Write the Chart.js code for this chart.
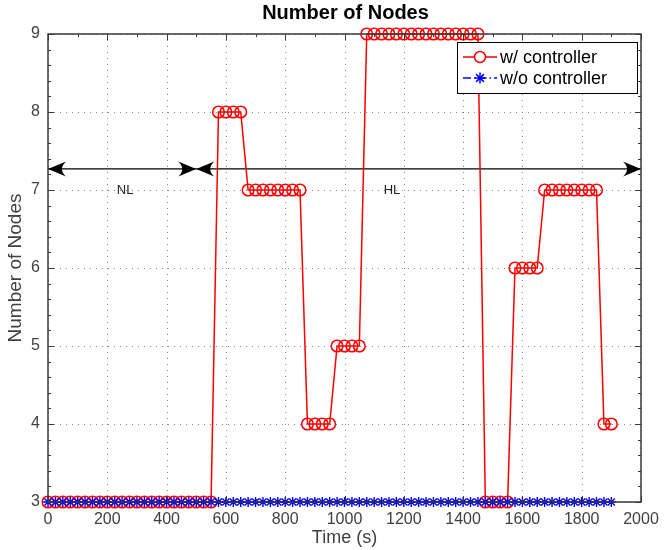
<!DOCTYPE html>
<html><head><meta charset="utf-8">
<script src="https://cdn.jsdelivr.net/npm/chart.js@4.4.1/dist/chart.umd.min.js"></script>
<style>html,body{margin:0;padding:0;background:#fff}#c{display:block}</style>
</head><body>
<canvas id="c" width="664" height="550"></canvas>
<script>
// ---- data ----
const timeS = [0,25,50,75,100,125,150,175,200,225,250,275,300,325,350,375,400,425,450,475,500,525,550,
  575,600,625,650,
  675,700,725,750,775,800,825,850,
  875,900,925,950,
  975,1000,1025,1050,
  1075,1100,1125,1150,1175,1200,1225,1250,1275,1300,1325,1350,1375,1400,1425,1450,
  1475,1500,1525,1550,
  1575,1600,1625,1650,
  1675,1700,1725,1750,1775,1800,1825,1850,
  1875,1900];
const withController = [3,3,3,3,3,3,3,3,3,3,3,3,3,3,3,3,3,3,3,3,3,3,3,
  8,8,8,8,
  7,7,7,7,7,7,7,7,
  4,4,4,4,
  5,5,5,5,
  9,9,9,9,9,9,9,9,9,9,9,9,9,9,9,9,
  3,3,3,3,
  6,6,6,6,
  7,7,7,7,7,7,7,7,
  4,4];
const withoutController = [3,3,3,3,3,3,3,3,3,3,3,3,3,3,3,3,3,3,3,3,3,3,3,
  3,3,3,3,
  3,3,3,3,3,3,3,3,
  3,3,3,3,
  3,3,3,3,
  3,3,3,3,3,3,3,3,3,3,3,3,3,3,3,3,
  3,3,3,3,
  3,3,3,3,
  3,3,3,3,3,3,3,3,
  3,3];
const seriesNames = ['w/ controller', 'w/o controller'];
const phaseNames = ['NL', 'HL'];
const phaseStart = [0, 500];
const phaseEnd = [500, 2000];
const phaseLabelTime = [260, 1160];
const phaseArrowLevel = 7.27;
const phaseLabelLevel = 7.0;
const xTickValues = [0,200,400,600,800,1000,1200,1400,1600,1800,2000];
const yTickValues = [3,4,5,6,7,8,9];

const FONT = '"Liberation Sans", Arial, Helvetica, sans-serif';
const TXT = '#404040';

function pts(vals){ return timeS.map((t,i)=>({x:t, y:vals[i]})); }

function drawStar(ctx, cx, cy, r){
  ctx.beginPath();
  for (let k=0;k<4;k++){
    const ang = k*Math.PI/4;
    const dx = Math.cos(ang)*r, dy = Math.sin(ang)*r;
    ctx.moveTo(cx-dx, cy-dy); ctx.lineTo(cx+dx, cy+dy);
  }
  ctx.stroke();
}
function arrowHead(ctx, tx, ty, dir, L, W){
  const bx = tx - dir*L;
  ctx.beginPath();
  ctx.moveTo(tx, ty);
  ctx.lineTo(bx, ty - W/2);
  ctx.quadraticCurveTo(tx - dir*L*0.55, ty, bx, ty + W/2);
  ctx.closePath();
  ctx.fill();
}

const deco = {
  id: 'deco',
  beforeDatasetsDraw(chart){
    const {ctx, chartArea:a, scales:{x, y}} = chart;
    ctx.save();
    ctx.strokeStyle = '#8a8a8a'; ctx.lineWidth = 1; ctx.setLineDash([1,5]);
    xTickValues.forEach(v=>{
      const px = Math.round(x.getPixelForValue(v))+0.5;
      ctx.beginPath(); ctx.moveTo(px, a.top); ctx.lineTo(px, a.bottom); ctx.stroke();
    });
    yTickValues.forEach(v=>{
      const py = Math.round(y.getPixelForValue(v))+0.5;
      ctx.beginPath(); ctx.moveTo(a.left, py); ctx.lineTo(a.right, py); ctx.stroke();
    });
    ctx.setLineDash([]);
    ctx.strokeStyle = '#000'; ctx.fillStyle = '#000'; ctx.lineWidth = 1.2;
    const ay = y.getPixelForValue(phaseArrowLevel);
    for (let i=0;i<phaseNames.length;i++){
      const x0 = x.getPixelForValue(phaseStart[i]), x1 = x.getPixelForValue(phaseEnd[i]);
      ctx.beginPath(); ctx.moveTo(x0, ay); ctx.lineTo(x1, ay); ctx.stroke();
      arrowHead(ctx, x0, ay, -1, 18, 15);
      arrowHead(ctx, x1, ay, 1, 18, 15);
      ctx.font = '13px ' + FONT; ctx.fillStyle = '#222';
      ctx.textAlign = 'center'; ctx.textBaseline = 'middle';
      ctx.fillText(phaseNames[i], x.getPixelForValue(phaseLabelTime[i]), y.getPixelForValue(phaseLabelLevel));
      ctx.fillStyle = '#000';
    }
    ctx.restore();
  },
  afterDraw(chart){
    const {ctx, chartArea:a, scales:{x, y}} = chart;
    ctx.save();
    ctx.strokeStyle = '#3a3a3a'; ctx.lineWidth = 1.5;
    ctx.strokeRect(a.left, a.top, a.right-a.left, a.bottom-a.top);
    ctx.lineWidth = 1;
    for (let v=0; v<=2000; v+=100){
      const px = Math.round(x.getPixelForValue(v))+0.5;
      const len = (v%200===0)?6:3;
      ctx.beginPath();
      ctx.moveTo(px, a.bottom); ctx.lineTo(px, a.bottom-len);
      ctx.moveTo(px, a.top); ctx.lineTo(px, a.top+len);
      ctx.stroke();
    }
    for (let k=0; k<=30; k++){
      const v = 3 + k*0.2;
      const py = Math.round(y.getPixelForValue(v))+0.5;
      const len = (k%5===0)?6:3;
      ctx.beginPath();
      ctx.moveTo(a.left, py); ctx.lineTo(a.left+len, py);
      ctx.moveTo(a.right, py); ctx.lineTo(a.right-len, py);
      ctx.stroke();
    }
    ctx.fillStyle = '#000'; ctx.font = 'bold 20px ' + FONT;
    ctx.textAlign = 'center'; ctx.textBaseline = 'middle';
    ctx.fillText('Number of Nodes', (a.left+a.right)/2 + 1, 13);
    const lw = 180, lh = 51;
    const lx = a.right - 4 - lw, ly = a.top + 8;
    ctx.fillStyle = '#fff'; ctx.fillRect(lx, ly, lw, lh);
    ctx.strokeStyle = '#000'; ctx.lineWidth = 1;
    ctx.strokeRect(lx+0.5, ly+0.5, lw, lh);
    const sx0 = lx+6, sx1 = lx+40, mx = (sx0+sx1)/2;
    const y1 = ly+15, y2 = ly+36;
    ctx.strokeStyle = '#ff0000'; ctx.lineWidth = 1.5;
    ctx.beginPath(); ctx.moveTo(sx0, y1); ctx.lineTo(sx1, y1); ctx.stroke();
    ctx.beginPath(); ctx.arc(mx, y1, 5.5, 0, Math.PI*2); ctx.fillStyle='#fff'; ctx.fill(); ctx.stroke();
    ctx.strokeStyle = '#0000ff';
    ctx.setLineDash([8,3,1.5,3]);
    ctx.beginPath(); ctx.moveTo(sx0, y2); ctx.lineTo(sx1, y2); ctx.stroke();
    ctx.setLineDash([]);
    drawStar(ctx, mx, y2, 5.5);
    ctx.fillStyle = '#000'; ctx.font = '18px ' + FONT;
    ctx.textAlign = 'left'; ctx.textBaseline = 'middle';
    ctx.fillText(seriesNames[0], lx+43, y1+1);
    ctx.fillText(seriesNames[1], lx+43, y2+1);
    ctx.restore();
  }
};

new Chart(document.getElementById('c'), {
  type: 'line',
  data: {
    datasets: [
      {
        label: seriesNames[1], data: pts(withoutController), order: 0,
        borderColor: '#0000ff', borderWidth: 1.5, borderDash: [8,3,1.5,3],
        pointStyle: 'star', pointRadius: 5, pointBorderColor: '#0000ff', pointBorderWidth: 1.4,
        pointBackgroundColor: 'rgba(0,0,0,0)', tension: 0, clip: false
      },
      {
        label: seriesNames[0], data: pts(withController), order: 1,
        borderColor: '#ff0000', borderWidth: 1.5,
        pointStyle: 'circle', pointRadius: 5.8, pointBorderColor: '#ff0000', pointBorderWidth: 1.5,
        pointBackgroundColor: 'rgba(0,0,0,0)', tension: 0, clip: false
      }
    ]
  },
  options: {
    responsive: false, animation: false, devicePixelRatio: 1,
    layout: { padding: { top: 34, right: 23, left: 0, bottom: 0 } },
    plugins: { legend: { display: false }, tooltip: { enabled: false }, title: { display: false } },
    scales: {
      x: {
        type: 'linear', min: 0, max: 2000,
        afterFit(s){ s.height = 48; s.paddingLeft = 0; s.paddingRight = 0; },
        afterBuildTicks(s){ s.ticks = xTickValues.map(v=>({value:v})); },
        grid: { display: false, drawTicks: false },
        border: { display: false },
        ticks: { color: TXT, font: { family: FONT, size: 16 }, padding: 8, maxRotation: 0, autoSkip: false,
                 callback: v => String(v) },
        title: { display: true, text: 'Time (s)', color: TXT, font: { family: FONT, size: 18 }, padding: { top: 0, bottom: 1 } }
      },
      y: {
        type: 'linear', min: 3, max: 9,
        afterFit(s){ s.width = 48; s.paddingTop = 0; s.paddingBottom = 0; },
        afterBuildTicks(s){ s.ticks = yTickValues.map(v=>({value:v})); },
        grid: { display: false, drawTicks: false },
        border: { display: false },
        ticks: { color: TXT, font: { family: FONT, size: 16 }, padding: 8, callback: v => String(v) },
        title: { display: true, text: 'Number of Nodes', color: TXT, font: { family: FONT, size: 19 }, padding: { top: 4, bottom: 0 } }
      }
    }
  },
  plugins: [deco]
});
</script>
</body></html>
